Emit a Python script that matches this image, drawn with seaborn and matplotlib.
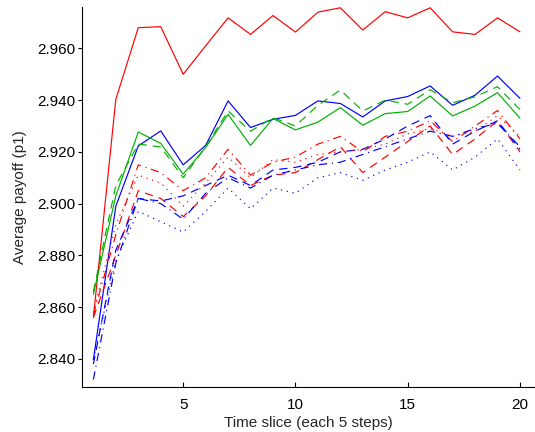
import matplotlib
matplotlib.use("Agg")
import matplotlib.pyplot as plt
import seaborn as sns
import pandas as pd

t = list(range(1, 21))

red_solid = [2.856, 2.9403, 2.968, 2.9684, 2.950, 2.961, 2.9718, 2.9654, 2.9727, 2.9663,
             2.974, 2.9757, 2.9671, 2.9742, 2.9718, 2.9757, 2.9664, 2.9654, 2.9718, 2.9664]
blue_solid = [2.8397, 2.899, 2.9223, 2.9281, 2.915, 2.9225, 2.9397, 2.9294, 2.9326, 2.9341,
              2.9397, 2.9387, 2.9335, 2.9397, 2.9414, 2.9455, 2.938, 2.9419, 2.9493, 2.9407]
green_solid = [2.865, 2.903, 2.9277, 2.9233, 2.9114, 2.9217, 2.9345, 2.9225, 2.9329, 2.9285,
               2.9315, 2.9371, 2.9303, 2.9348, 2.9356, 2.9416, 2.9339, 2.9377, 2.9429, 2.9330]
green_dashed = [2.866, 2.907, 2.923, 2.9219, 2.910, 2.922, 2.9358, 2.928, 2.9332, 2.930,
                2.938, 2.9439, 2.9358, 2.940, 2.9384, 2.944, 2.939, 2.9413, 2.9452, 2.9364]
red_dashdot = [2.857, 2.888, 2.915, 2.912, 2.905, 2.910, 2.921, 2.911, 2.916, 2.918,
               2.923, 2.926, 2.920, 2.926, 2.928, 2.932, 2.924, 2.930, 2.936, 2.925]
red_dashed = [2.856, 2.880, 2.905, 2.902, 2.895, 2.903, 2.914, 2.907, 2.911, 2.912,
              2.917, 2.922, 2.912, 2.918, 2.924, 2.930, 2.919, 2.925, 2.932, 2.920]
blue_dashed = [2.838, 2.882, 2.902, 2.901, 2.903, 2.907, 2.911, 2.907, 2.913, 2.914,
               2.916, 2.920, 2.921, 2.925, 2.930, 2.934, 2.923, 2.928, 2.932, 2.921]
blue_dashdot = [2.832, 2.877, 2.902, 2.900, 2.894, 2.904, 2.910, 2.906, 2.911, 2.913,
                2.915, 2.916, 2.919, 2.922, 2.925, 2.928, 2.926, 2.929, 2.931, 2.922]
red_dotted = [2.858, 2.892, 2.911, 2.908, 2.899, 2.908, 2.918, 2.910, 2.917, 2.916,
              2.919, 2.920, 2.921, 2.923, 2.927, 2.929, 2.926, 2.928, 2.934, 2.926]
blue_dotted = [2.840, 2.878, 2.897, 2.893, 2.889, 2.897, 2.906, 2.898, 2.906, 2.904,
               2.910, 2.912, 2.909, 2.913, 2.916, 2.920, 2.913, 2.918, 2.925, 2.913]

y_ticks = [2.84, 2.86, 2.88, 2.90, 2.92, 2.94, 2.96]
x_ticks = [5, 10, 15, 20]

series = {
    "red_solid": red_solid, "blue_solid": blue_solid, "green_solid": green_solid,
    "green_dashed": green_dashed, "red_dashdot": red_dashdot, "red_dashed": red_dashed,
    "blue_dashed": blue_dashed, "blue_dashdot": blue_dashdot, "red_dotted": red_dotted,
    "blue_dotted": blue_dotted,
}

RED, BLUE, GREEN = "#ff0000", "#0000ff", "#00b000"
palette = {k: (RED if k.startswith("red") else BLUE if k.startswith("blue") else GREEN)
           for k in series}
dash_map = {"solid": "", "dashed": (7, 5), "dashdot": (7, 4, 1, 4), "dotted": (1, 4)}
dashes = {k: dash_map[k.split("_")[1]] for k in series}

rows = []
for name, vals in series.items():
    for x, v in zip(t, vals):
        rows.append({"t": x, "v": v, "series": name})
df = pd.DataFrame(rows)

sns.set_style("white")
plt.rcParams["font.family"] = ["Liberation Sans", "DejaVu Sans"]

fig = plt.figure(figsize=(5.35, 4.32), dpi=100)
ax = fig.add_axes([81.7 / 535, 1 - 387.3 / 432, 1 - 81.7 / 535, (387.3 - 7) / 432])
sns.lineplot(data=df, x="t", y="v", hue="series", style="series", palette=palette,
             dashes=dashes, linewidth=0.85, legend=False, ax=ax)

ax.set_xlim(0.48, 20.67)
ax.set_ylim(2.829, 2.976)
ax.set_xticks(x_ticks)
ax.set_yticks(y_ticks)
ax.set_yticklabels([f"{v:.3f}" for v in y_ticks])
ax.tick_params(axis="x", direction="in", length=3.5, width=0.8, labelsize=11,
               colors="black", bottom=True, pad=7.5)
ax.tick_params(axis="y", direction="out", length=3, width=0.8, labelsize=11,
               colors="black", left=True, pad=1.5)
for s in ["top", "right"]:
    ax.spines[s].set_visible(False)
for s in ["left", "bottom"]:
    ax.spines[s].set_color("black")
    ax.spines[s].set_linewidth(0.8)
ax.set_xlabel("Time slice (each 5 steps)", fontsize=11, labelpad=3)
ax.set_ylabel("Average payoff (p1)", fontsize=11, labelpad=7.5)
ax.grid(False)

fig.savefig("out.png", dpi=100)
